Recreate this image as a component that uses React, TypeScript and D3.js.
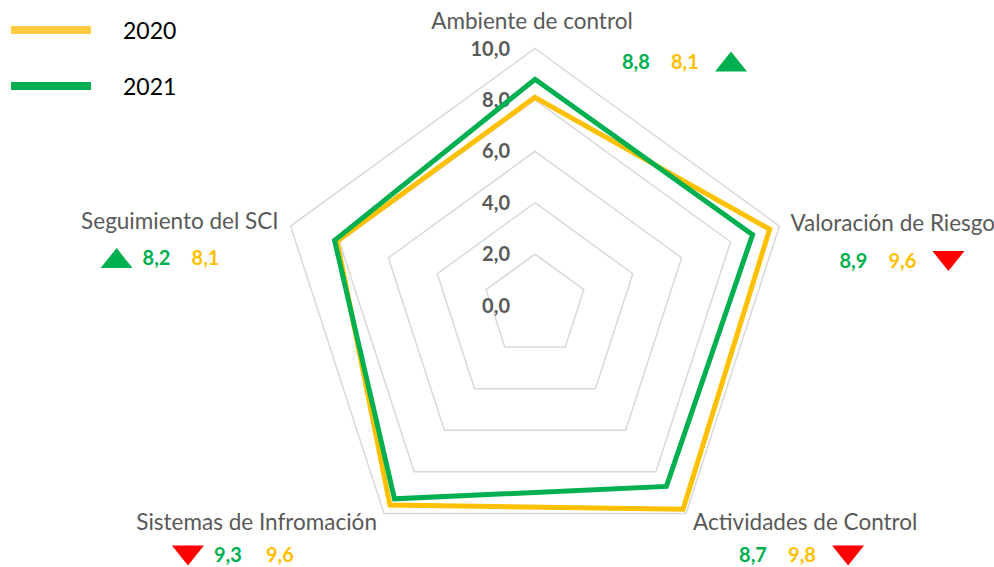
import React from "react";
import * as d3 from "d3";

// Chart data
const categories = [
  "Ambiente de control",
  "Valoración de Riesgo",
  "Actividades de Control",
  "Sistemas de Infromación",
  "Seguimiento del SCI",
];
const values2020 = [8.1, 9.6, 9.8, 9.6, 8.1];
const values2021 = [8.8, 8.9, 8.7, 9.3, 8.2];
const tickValues = [0, 2, 4, 6, 8, 10];
const seriesNames = ["2020", "2021"];

// Layout
const width = 994;
const height = 567;
const cx = 535;
const cy = 305.5;
const radius = 257;
const yellow = "#FFC000";
const yellowLegend = "#FFCC3D";
const green = "#00B050";
const red = "#FF0000";
const gray = "#595959";
const font = "Lato, 'Noto Sans', sans-serif";

// label offsets from each outer vertex (layout only)
const labelLayout = [
  { dx: -3, dy: -20, anchor: "middle", rowDx: 87, rowDy: 20, triFirst: false },
  { dx: 11, dy: 5, anchor: "start", rowDx: 60, rowDy: 42, triFirst: false },
  { dx: 7, dy: 17, anchor: "start", rowDx: 53, rowDy: 49, triFirst: false },
  { dx: -7, dy: 17, anchor: "end", rowDx: -196, rowDy: 49, triFirst: true },
  { dx: -12, dy: 3, anchor: "end", rowDx: -174, rowDy: 39, triFirst: true },
];

const fmt = (v: number) => d3.format(".1f")(v).replace(".", ",");

const Triangle: React.FC<{ x: number; y: number; up: boolean }> = ({ x, y, up }) => {
  const w = 32;
  const h = 20;
  const pts = up
    ? [[x - w / 2, y + h / 2], [x + w / 2, y + h / 2], [x, y - h / 2]]
    : [[x - w / 2, y - h / 2], [x + w / 2, y - h / 2], [x, y + h / 2]];
  return <polygon points={pts.map((p) => p.join(",")).join(" ")} fill={up ? green : red} />;
};

const App: React.FC = () => {
  const r = d3.scaleLinear().domain([0, 10]).range([0, radius]);
  const step = (2 * Math.PI) / categories.length;
  const angles = categories.map((_, i) => i * step);
  const point = (a: number, v: number): [number, number] => [
    cx + r(v) * Math.sin(a),
    cy - r(v) * Math.cos(a),
  ];

  const radar = d3
    .lineRadial<number>()
    .angle((_, i) => angles[i])
    .radius((d) => r(d))
    .curve(d3.curveLinearClosed);

  return (
    <>
      <style>{`body{margin:0}`}</style>
      <svg width={width} height={height} style={{ display: "block", fontFamily: font }}>
        <rect width={width} height={height} fill="#fff" />

        {/* grid */}
        <g transform={`translate(${cx},${cy})`}>
          {tickValues
            .filter((t) => t > 0)
            .map((t) => (
              <path
                key={t}
                d={radar(categories.map(() => t)) || ""}
                fill="none"
                stroke="#D9D9D9"
                strokeWidth={1.5}
              />
            ))}
        </g>

        {/* tick labels */}
        {tickValues.map((t) => (
          <text
            key={t}
            x={cx - 25}
            y={cy - r(t)}
            dy="0.35em"
            textAnchor="end"
            fontSize={20}
            fontWeight="bold"
            fill={gray}
          >
            {fmt(t)}
          </text>
        ))}

        {/* series */}
        <g transform={`translate(${cx},${cy})`}>
          <path d={radar(values2020) || ""} fill="none" stroke={yellow} strokeWidth={5} />
          <path d={radar(values2021) || ""} fill="none" stroke={green} strokeWidth={5} />
        </g>

        {/* category labels & annotations */}
        {categories.map((c, i) => {
          const [vx, vy] = point(angles[i], 10);
          const L = labelLayout[i];
          const up = values2021[i] > values2020[i];
          const rx = vx + L.rowDx;
          const ry = vy + L.rowDy;
          const greenX = L.triFirst ? rx + 26 : rx;
          const yellowX = greenX + (i === 3 ? 52 : 49);
          const triX = L.triFirst ? rx : yellowX + 60;
          return (
            <g key={c}>
              <text x={vx + L.dx} y={vy + L.dy} textAnchor={L.anchor as any} fontSize={22.5} fill={gray}>
                {c}
              </text>
              <text x={greenX} y={ry} fontSize={20} fontWeight="bold" fill={green}>
                {fmt(values2021[i])}
              </text>
              <text x={yellowX} y={ry} fontSize={20} fontWeight="bold" fill={yellow}>
                {fmt(values2020[i])}
              </text>
              <Triangle x={triX} y={ry - 7} up={up} />
            </g>
          );
        })}

        {/* legend */}
        {seriesNames.map((s, i) => (
          <g key={s} transform={`translate(0,${30 + i * 56})`}>
            <line x1={11} x2={91} y1={0} y2={0} stroke={i === 0 ? yellowLegend : green} strokeWidth={8} />
            <text x={123} y={9} fontSize={23} fill="#000">
              {s}
            </text>
          </g>
        ))}
      </svg>
    </>
  );
};

export default App;
